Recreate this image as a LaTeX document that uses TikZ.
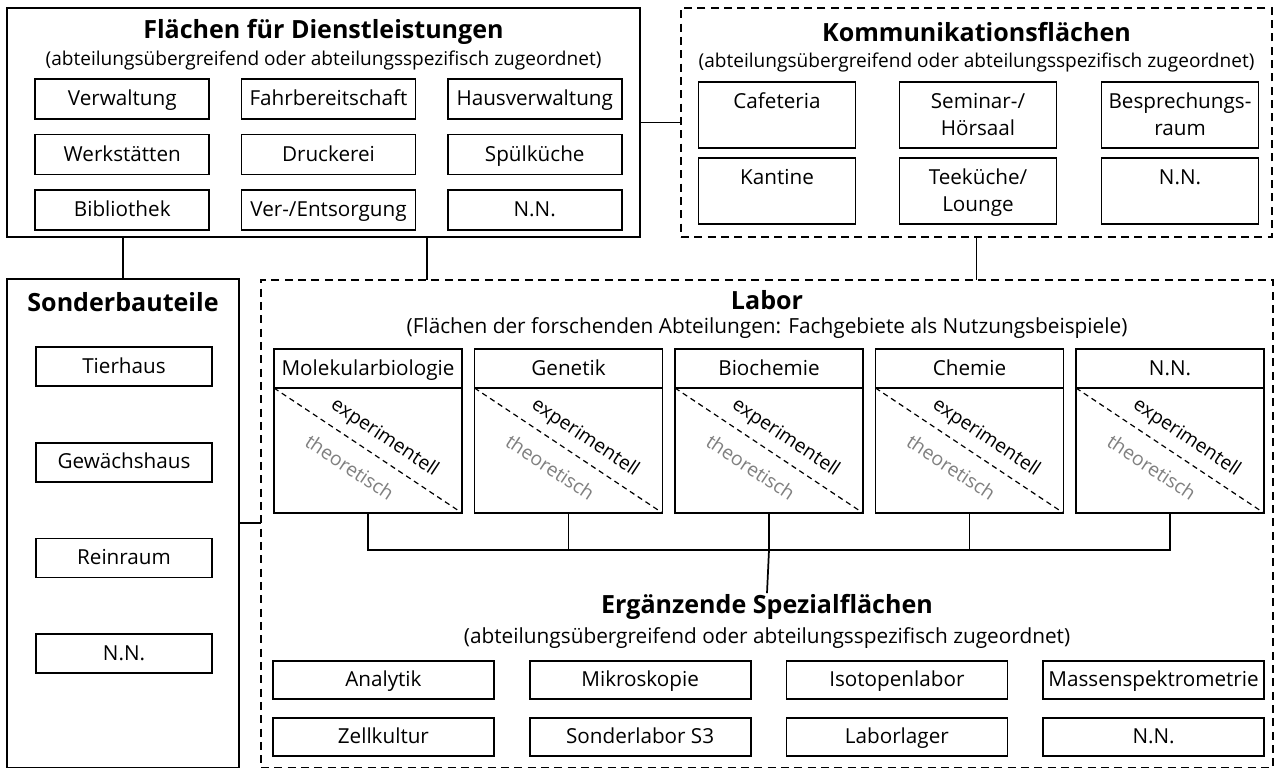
\documentclass[tikz,border=0pt]{standalone}
\usepackage{fontspec}
\setmainfont{Open Sans}
\usetikzlibrary{positioning, matrix, calc}
\newlength{\px}
\setlength{\px}{0.75pt}
\newcommand{\cellfont}{\fontsize{15.5}{20}\selectfont}
\newcommand{\subfont}{\fontsize{14.3}{18}\selectfont}
\newcommand{\bigsubfont}{\fontsize{15.6}{19}\selectfont}
\newcommand{\ttlfont}{\fontsize{18.8}{22}\selectfont\bfseries}

\begin{document}
\begin{tikzpicture}[
    x=0.75pt, y=-0.75pt,
    line width=1.3pt,
    cell/.style={draw, inner sep=0pt, outer sep=0pt, font=\cellfont, text height=12pt, text depth=2pt,
        minimum width=174\px, minimum height=40\px},
    kcell/.style={draw, inner sep=0pt, outer sep=0pt, font=\cellfont, align=center,
        text height=36pt, text depth=6pt, minimum width=157\px, minimum height=66\px},
    grp/.style={draw, inner sep=0pt, outer sep=0pt},
    dgrp/.style={draw, inner sep=0pt, outer sep=0pt, line width=1.1pt, dash pattern=on 6pt off 4pt},
    ttl/.style={font=\ttlfont},
    sub/.style={font=\subfont},
    bigsub/.style={font=\bigsubfont},
    diag/.style={line width=0.9pt, dash pattern=on 4pt off 3pt},
    lbl/.style={font=\fontsize{14.5}{16}\selectfont, sloped},
    expl/.style={lbl, above, inner sep=7pt},
    theo/.style={lbl, below, inner sep=12pt, text=black!50}
]
    \useasboundingbox (0,0) rectangle (1277,767);
    \fill[white] (0,0) rectangle (1277,767);

    % Flaechen fuer Dienstleistungen
    \node[grp, minimum width=633\px, minimum height=229\px] (dl) at (323.5,122.5) {};
    \node[ttl] (dlt) at (323.5,32) {Flächen für Dienstleistungen};
    \node[sub] (dls) at (323.5,60) {(abteilungsübergreifend oder abteilungsspezifisch zugeordnet)};
    \matrix (dlm) [matrix of nodes, nodes={cell, anchor=center}, column sep=30.5\px, row sep=13.5\px] at (328.5,154.5) {
        Verwaltung  & Fahrbereitschaft & Hausverwaltung \\
        Werkstätten & Druckerei        & Spülküche      \\
        Bibliothek  & Ver-/Entsorgung  & N.N.           \\
    };

    % Kommunikationsflaechen
    \node[dgrp, minimum width=591\px, minimum height=229\px] (kf) at (976.5,122.5) {};
    \node[ttl] (kft) at (976.5,32) {Kommunikationsflächen};
    \node[sub] (kfs) at (976.5,62) {(abteilungsübergreifend oder abteilungsspezifisch zugeordnet)};
    \node[kcell] (caf) at (777,115) {Cafeteria\\~};
    \node[kcell, right=44\px of caf] (sem) {Seminar-/\\Hörsaal};
    \node[kcell, right=45\px of sem] (bes) {Besprechungs-\\raum};
    \node[kcell, below=10\px of caf] (kan) {Kantine\\~};
    \node[kcell, below=10\px of sem] (tee) {Teeküche/\\Lounge};
    \node[kcell, below=10\px of bes] (knn) {N.N.\\~};

    % Sonderbauteile
    \node[grp, minimum width=232\px, minimum height=488.5\px] (sb) at (123,523.25) {};
    \node[ttl] (sbt) at (123,302) {Sonderbauteile};
    \matrix (sbm) [matrix of nodes, nodes={cell, anchor=center, minimum width=176\px, minimum height=39\px}, row sep=55\px] at (124,510) {
        Tierhaus    \\
        Gewächshaus \\
        Reinraum    \\
        N.N.        \\
    };

    % Labor
    \node[dgrp, minimum width=1012\px, minimum height=487.5\px] (lab) at (767,523.75) {};
    \node[ttl] (labt) at (767,300) {Labor};
    \node[bigsub] (labs) at (767,328) {(Flächen der forschenden Abteilungen: Fachgebiete als Nutzungsbeispiele)};
    \foreach \nm [count=\i] in {Molekularbiologie, Genetik, Biochemie, Chemie, N.N.} {
        \node[cell, minimum width=188\px, minimum height=39\px] (lh\i) at ({167.5+200.5*\i},368.5) {\nm};
        \node[cell, minimum width=188\px, minimum height=125\px, below=0pt of lh\i] (lb\i) {};
        \draw[diag] (lb\i.north west) -- node[expl, pos=0.53] {experimentell}
            node[theo, pos=0.474] {theoretisch} (lb\i.south east);
    }

    % Ergaenzende Spezialflaechen
    \node[ttl] (ergt) at (767,607) {Ergänzende Spezialflächen};
    \node[bigsub] (ergs) at (767,638) {(abteilungsübergreifend oder abteilungsspezifisch zugeordnet)};
    \matrix (erm) [matrix of nodes, nodes={cell, anchor=center, minimum width=221\px, minimum height=38\px}, column sep=34\px, row sep=17\px] at (768.5,708.5) {
        Analytik  & Mikroskopie     & Isotopenlabor & Massenspektrometrie \\
        Zellkultur & Sonderlabor S3 & Laborlager    & N.N.                \\
    };

    % Verbindungen
    \coordinate (dlfoot) at (427,237);
    \coordinate (bus) at (769,550);
    \draw (dl.east) -- (kf.west);
    \draw (sb.north) -- (sb.north |- dl.south);
    \draw (dlfoot) -- (dlfoot |- lab.north);
    \draw (kf.south) -- (kf.south |- lab.north);
    \draw (sb.east) -- (lab.west |- sb.east);
    \draw (lb1.south) |- (lb5.south |- bus) -- (lb5.south);
    \foreach \i in {2,3,4}
        \draw (lb\i.south) -- (lb\i.south |- bus);
    \draw (lb3.south |- bus) -- ([yshift=-3pt]ergt.north);
\end{tikzpicture}
\end{document}
